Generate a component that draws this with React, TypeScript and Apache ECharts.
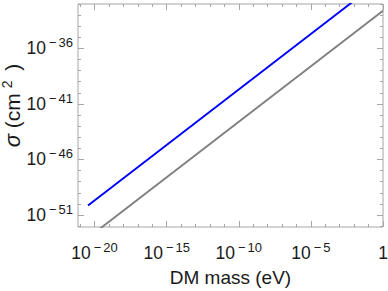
import { useEffect, useRef } from "react";
import * as echarts from "echarts";

// Axis ticks (powers of ten, stored as exponents)
const xTickExps = [-20, -15, -10, -5, 0];
const yTickExps = [-51, -46, -41, -36];
const xRange = [-21.15, 0];
const yRange = [-52.08, -32.0];

// Series: DM mass (eV) vs cross-section sigma (cm^2)
const blueMass = [3.5e-21, 1];
const blueSigma = [7.1e-51, 2.0e-30];
const grayMass = [1e-21, 1];
const graySigma = [2.5e-54, 2.5e-33];

const FONT = "'Liberation Sans', Arial, sans-serif";
const FRAME = "#a6a6a6";
const TEXT = "#1a1a1a";

function intRange(a: number, b: number) {
  const out: number[] = [];
  for (let i = Math.ceil(a); i <= Math.floor(b); i++) out.push(i);
  return out;
}

const rich = {
  b: { fontSize: 17.5, lineHeight: 24, fontFamily: FONT, color: TEXT },
  m: { fontSize: 13, lineHeight: 5, verticalAlign: "top", fontFamily: FONT, color: TEXT, padding: [0, 0, 0, 3] },
  s: { fontSize: 13, lineHeight: 5, verticalAlign: "top", fontFamily: FONT, color: TEXT, padding: [0, 0, 0, 2] },
};

const fmt = (v: number) => (Math.abs(v) < 1e-9 ? "{b|1}" : `{b|10}{m|\u2212}{s|${-v}}`);

function makeAxis(dim: "x" | "y", position: string, values: number[], len: number, withLabels: boolean, extra: any = {}) {
  const range = dim === "x" ? xRange : yRange;
  return {
    type: "value",
    position,
    min: range[0],
    max: range[1],
    nameMoveOverlap: false,
    axisLine: { show: false, onZero: false },
    splitLine: { show: false },
    axisTick: {
      show: true,
      inside: true,
      length: len,
      customValues: values,
      lineStyle: { color: FRAME, width: 1 },
    },
    axisLabel: withLabels
      ? {
          show: true,
          customValues: values,
          formatter: fmt,
          rich,
          margin: dim === "x" ? 14 : 5,
          hideOverlap: false,
          showMinLabel: true,
          showMaxLabel: true,
        }
      : { show: false },
    ...extra,
  };
}

export default function App() {
  const ref = useRef<HTMLDivElement>(null);
  useEffect(() => {
    if (!ref.current) return;
    const chart = echarts.init(ref.current, null, { renderer: "svg" });
    const xMinor = intRange(xRange[0], xRange[1]);
    const yMinor = intRange(yRange[0], yRange[1]);
    chart.setOption({
      animation: false,
      backgroundColor: "#ffffff",
      grid: {
        left: 78,
        right: 5,
        top: 4,
        bottom: 64,
        show: true,
        containLabel: false,
        outerBoundsMode: "none",
        borderColor: FRAME,
        borderWidth: 1,
        backgroundColor: "transparent",
      },
      xAxis: [
        makeAxis("x", "bottom", xTickExps, 6, true, {
          name: "DM mass (eV)",
          nameLocation: "middle",
          nameGap: 41,
          nameTextStyle: { fontFamily: FONT, fontSize: 19, color: TEXT },
        }),
        makeAxis("x", "bottom", xMinor, 3, false),
        makeAxis("x", "top", xTickExps, 6, false),
        makeAxis("x", "top", xMinor, 3, false),
      ],
      yAxis: [
        makeAxis("y", "left", yTickExps, 6, true, {
          name: "{i|\u03c3}{n| (cm}{s|2}{n| )}",
          nameLocation: "middle",
          nameGap: 54,
          nameRotate: 90,
          nameTextStyle: {
            padding: [0, 0, 0, 20],
            rich: {
              i: { fontFamily: FONT, fontSize: 22, fontStyle: "italic", color: TEXT, lineHeight: 24 },
              n: { fontFamily: FONT, fontSize: 21, color: TEXT, lineHeight: 24 },
              s: { fontFamily: FONT, fontSize: 14, color: TEXT, lineHeight: 5, verticalAlign: "top", padding: [0, 4, 0, 5] },
            },
          },
        }),
        makeAxis("y", "left", yMinor, 3, false),
        makeAxis("y", "right", yTickExps, 6, false),
        makeAxis("y", "right", yMinor, 3, false),
      ],
      series: [
        {
          type: "line",
          xAxisIndex: 0,
          yAxisIndex: 0,
          showSymbol: false,
          symbol: "none",
          clip: true,
          lineStyle: { color: "#0000ff", width: 1.9 },
          data: blueMass.map((m, i) => [Math.log10(m), Math.log10(blueSigma[i])]),
        },
        {
          type: "line",
          xAxisIndex: 0,
          yAxisIndex: 0,
          showSymbol: false,
          symbol: "none",
          clip: true,
          lineStyle: { color: "#7f7f7f", width: 1.9 },
          data: grayMass.map((m, i) => [Math.log10(m), Math.log10(graySigma[i])]),
        },
      ],
    });
    return () => chart.dispose();
  }, []);
  return <div ref={ref} style={{ position: "absolute", left: 0, top: 0, width: 388, height: 291 }} />;
}
